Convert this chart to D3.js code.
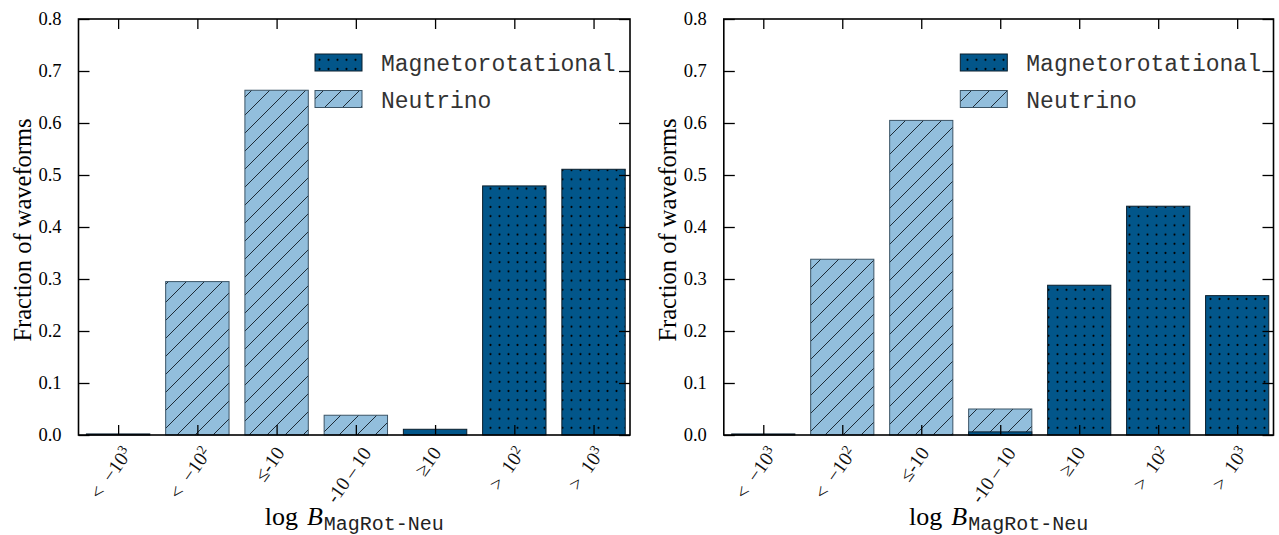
<!DOCTYPE html>
<html>
<head>
<meta charset="utf-8">
<script src="https://cdn.jsdelivr.net/npm/d3@7"></script>
<style>
  html, body { margin: 0; padding: 0; background: #fff; }
  svg { display: block; }
</style>
</head>
<body>
<svg id="chart" width="1279" height="535"></svg>
<script>
// ---- data ----
const categories = ["<\u2002−10^3", "<\u2002−10^2", "≤-10", "-10\u2009–\u200910", "≥10", ">\u200210^2", ">\u200210^3"];
const seriesNames = ["Magnetorotational", "Neutrino"];
const leftMagRot   = [0.002, 0, 0, 0, 0.011, 0.479, 0.511];
const leftNeutrino = [0, 0.295, 0.663, 0.038, 0, 0, 0];
const rightMagRot   = [0.002, 0, 0, 0.006, 0.288, 0.440, 0.268];
const rightNeutrino = [0, 0.338, 0.605, 0.050, 0, 0, 0];
const yTicks = [0.0, 0.1, 0.2, 0.3, 0.4, 0.5, 0.6, 0.7, 0.8];
const yLabel = "Fraction of waveforms";

// ---- style ----
const magColor = "#02568a";
const neuColor = "#92bedc";
const serif = "'Liberation Serif', 'DejaVu Serif', serif";
const mono = "'Liberation Mono', 'DejaVu Sans Mono', monospace";

const svg = d3.select("#chart");
const defs = svg.append("defs");

// hatch patterns
const pN = defs.append("pattern").attr("id", "hatchN")
  .attr("patternUnits", "userSpaceOnUse").attr("width", 18).attr("height", 18);
pN.append("rect").attr("width", 18).attr("height", 18).attr("fill", neuColor);
pN.append("path").attr("d", "M0,18 L18,0 M-4.5,4.5 L4.5,-4.5 M13.5,22.5 L22.5,13.5")
  .attr("stroke", "#1c2a36").attr("stroke-width", 1);

const pM = defs.append("pattern").attr("id", "dotsM")
  .attr("patternUnits", "userSpaceOnUse").attr("width", 9).attr("height", 9.2);
pM.append("rect").attr("width", 9).attr("height", 9.2).attr("fill", magColor);
pM.append("circle").attr("cx", 4.5).attr("cy", 4.6).attr("r", 1.05).attr("fill", "#000");

const yTop = 19, yBottom = 435;
const y = d3.scaleLinear().domain([0, 0.8]).range([yBottom, yTop]);

function addLabel(sel, str) {
  const parts = str.split("^");
  sel.append("tspan").text(parts[0]);
  if (parts.length > 1) {
    sel.append("tspan").attr("dy", "-0.45em").attr("font-size", "0.7em").text(parts[1]);
  }
}

function drawPanel(x0, x1, magVals, neuVals) {
  const g = svg.append("g");
  const x = d3.scaleLinear().domain([-0.5, 6.46]).range([x0, x1]);
  const bw = x(0.4) - x(0);

  // neutrino bars
  g.selectAll("rect.neu").data(neuVals).join("rect")
    .attr("class", "neu")
    .attr("x", (d, i) => x(i) - bw)
    .attr("width", 2 * bw)
    .attr("y", d => y(d))
    .attr("height", d => y(0) - y(d))
    .attr("fill", "url(#hatchN)")
    .attr("stroke", d => d > 0 ? "#3b5466" : "none")
    .attr("stroke-width", 1);

  // magnetorotational bars
  g.selectAll("rect.mag").data(magVals).join("rect")
    .attr("class", "mag")
    .attr("x", (d, i) => x(i) - bw)
    .attr("width", 2 * bw)
    .attr("y", d => y(d))
    .attr("height", d => y(0) - y(d))
    .attr("fill", "url(#dotsM)")
    .attr("stroke", d => d > 0 ? "#0a1e2c" : "none")
    .attr("stroke-width", 1);

  // axes (ticks inward)
  const idx = d3.range(categories.length);
  const axB = d3.axisBottom(x).tickValues(idx).tickSize(-10).tickFormat("");
  const axT = d3.axisTop(x).tickValues(idx).tickSize(-10).tickFormat("");
  const axL = d3.axisLeft(y).tickValues(yTicks).tickSize(-11).tickPadding(17)
    .tickFormat(d3.format(".1f"));
  const axR = d3.axisRight(y).tickValues(yTicks).tickSize(-11).tickFormat("");

  const gb = g.append("g").attr("transform", `translate(0,${yBottom})`).call(axB);
  const gt = g.append("g").attr("transform", `translate(0,${yTop})`).call(axT);
  const gl = g.append("g").attr("transform", `translate(${x0},0)`).call(axL);
  const gr = g.append("g").attr("transform", `translate(${x1},0)`).call(axR);
  [gb, gt, gl, gr].forEach(a => {
    a.select(".domain").remove();
    a.selectAll(".tick line").attr("stroke", "#000").attr("stroke-width", 1.3);
  });
  gl.attr("font-family", null).attr("font-size", null);
  gl.selectAll(".tick text").style("font-family", serif).style("font-size", "18.5px")
    .attr("fill", "#000");

  // frame
  g.append("rect").attr("x", x0).attr("y", yTop).attr("width", x1 - x0)
    .attr("height", yBottom - yTop).attr("fill", "none")
    .attr("stroke", "#000").attr("stroke-width", 1.6);

  // x tick labels, rotated; bounding box top aligned just below axis
  const ang = 55 * Math.PI / 180;
  const fs = 19.5;
  g.selectAll("text.xt").data(categories).join("text")
    .attr("class", "xt")
    .attr("text-anchor", "middle")
    .attr("dy", "0.33em")
    .style("font-family", serif).style("font-size", fs + "px").attr("fill", "#111")
    .each(function (d, i) {
      const t = d3.select(this);
      addLabel(t, d);
      const L = this.getComputedTextLength();
      const h = fs * 0.75;
      const H = L * Math.sin(ang) + h * Math.cos(ang);
      t.attr("transform", `translate(${x(i) - 7},${yBottom + 10 + H / 2}) rotate(-55)`);
    });

  // y label
  g.append("text")
    .attr("transform", `translate(${x0 - 56},${(yTop + yBottom) / 2 + 3}) rotate(-90)`)
    .attr("text-anchor", "middle").attr("dy", "0.35em")
    .style("font-family", serif).style("font-size", "24.5px").attr("fill", "#000")
    .text(yLabel);

  // x label
  const xl = g.append("text")
    .attr("x", (x0 + x1) / 2).attr("y", 525)
    .attr("text-anchor", "middle")
    .style("font-family", serif).style("font-size", "26px").attr("fill", "#000");
  xl.append("tspan").text("log");
  xl.append("tspan").attr("dx", 9).style("font-style", "italic").text("B");
  xl.append("tspan").style("font-family", mono).style("font-size", "20px")
    .attr("dx", 1).attr("dy", 5).attr("fill", "#222").text("MagRot-Neu");

  // legend
  const lx = x0 + 236.5;
  const legend = [
    { name: seriesNames[0], fill: "url(#dotsM)", stroke: "#0a1e2c", y: 54 },
    { name: seriesNames[1], fill: "url(#hatchN)", stroke: "#3b5466", y: 90.5 }
  ];
  legend.forEach(l => {
    g.append("rect").attr("x", lx).attr("y", l.y).attr("width", 47).attr("height", 17)
      .attr("fill", l.fill).attr("stroke", l.stroke).attr("stroke-width", 1);
    g.append("text").attr("x", lx + 66).attr("y", l.y + 17)
      .style("font-family", mono).style("font-size", "23px").attr("fill", "#333")
      .text(l.name);
  });
}

drawPanel(78.5, 630, leftMagRot, leftNeutrino);
drawPanel(723.8, 1273.5, rightMagRot, rightNeutrino);
</script>
</body>
</html>
